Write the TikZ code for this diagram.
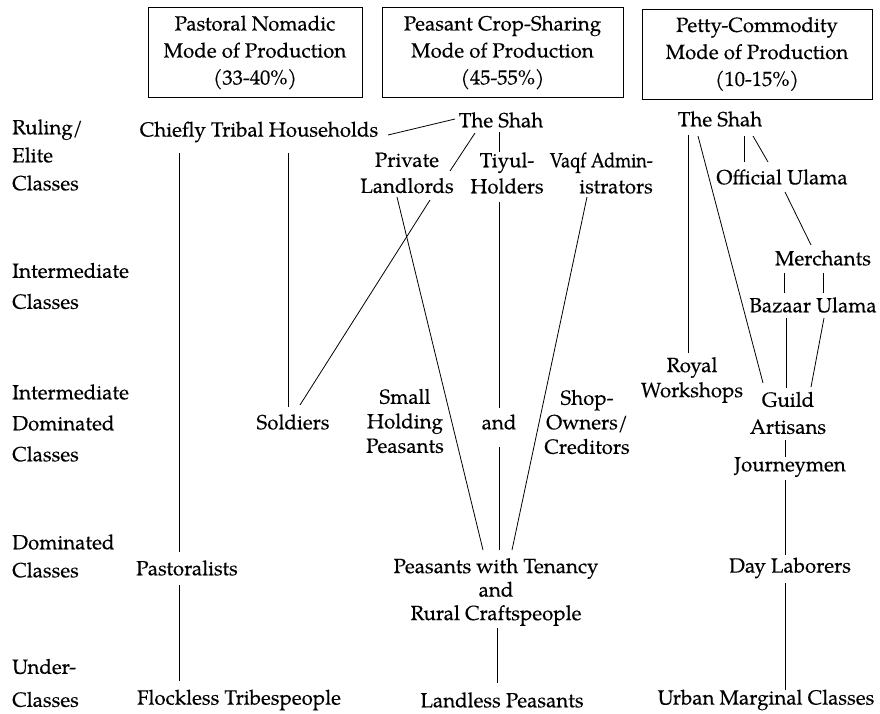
\documentclass[tikz,border=0pt]{standalone}
\usepackage{fontspec}
\setmainfont[FakeBold=0.3]{TeX Gyre Pagella}
\newfontfamily\narrowpag[FakeBold=0.3,FakeStretch=0.88]{TeX Gyre Pagella}
\usetikzlibrary{calc}
\begin{document}
\begin{tikzpicture}[x=1pt,y=-1pt,
  txt/.style={inner sep=0pt, align=center, font=\fontsize{20.5}{25}\selectfont},
  modebox/.style={draw, line width=0.9pt, align=center, minimum height=90pt, inner sep=0pt, font=\fontsize{20.5}{27}\selectfont},
  rowlabel/.style={anchor=west, align=left, inner sep=0pt, font=\fontsize{20.5}{31}\selectfont},
  link/.style={line width=0.8pt}]
\useasboundingbox (0,0) rectangle (880,713);

% mode boxes
\node[modebox, minimum width=214pt] (m1) at (255,52.5) {Pastoral Nomadic\\Mode of Production\\(33-40\%)};
\node[modebox, minimum width=241pt] (m2) at (502.5,52.5) {Peasant Crop-Sharing\\Mode of Production\\(45-55\%)};
\node[modebox, minimum width=230pt] (m3) at (757,54) {Petty-Commodity\\Mode of Production\\(10-15\%)};

% row labels
\node[rowlabel, font=\fontsize{20.5}{28}\selectfont] (r1) at (12,155) {Ruling/\\Elite\\Classes};
\node[rowlabel] (r2) at (12,286) {Intermediate\\Classes};
\node[rowlabel] (r3) at (12,423) {Intermediate\\Dominated\\Classes};
\node[rowlabel, font=\fontsize{20.5}{28}\selectfont] (r4) at (12,556) {Dominated\\Classes};
\node[rowlabel, font=\fontsize{20.5}{33}\selectfont] (r5) at (12,683) {Under-\\Classes};

% pastoral nomadic column
\node[txt] (chiefly) at (259,132) {Chiefly Tribal Households};
\node[txt] (soldiers) at (293,422) {Soldiers};
\node[txt] (pastoralists) at (187,568) {Pastoralists};
\node[txt] (flockless) at (239,700) {Flockless Tribespeople};

% peasant crop-sharing column
\node[txt] (shahA) at (501,120) {The Shah};
\node[txt, font=\fontsize{20.5}{26}\selectfont] (landlords) at (407,173) {Private\\Landlords};
\node[txt, font=\fontsize{20.5}{26}\selectfont] (tiyul) at (507,173) {Tiyul-\\Holders};
\node[txt, align=right, anchor=east, font=\fontsize{20.5}{26}\selectfont] (vaqf) at (653,173) {{\narrowpag\fontsize{20.5}{26}\selectfont Vaqf Admin-}\\istrators};
\node[txt, font=\fontsize{20.5}{24.5}\selectfont] (small) at (405,421) {Small\\Holding\\Peasants};
\node[txt] (andmid) at (499,422) {and};
\node[txt, font=\fontsize{20.5}{24.5}\selectfont] (shop) at (587,422) {Shop-\\Owners/\\Creditors};
\node[txt, font=\fontsize{20.5}{23.5}\selectfont] (tenancy) at (496,592) {Peasants with Tenancy\\and\\Rural Craftspeople};
\node[txt] (landless) at (502,700) {Landless Peasants};

% petty-commodity column
\node[txt] (shahB) at (720,119) {The Shah};
\node[txt] (official) at (782,177) {Official Ulama};
\node[txt] (merchants) at (823,258) {Merchants};
\node[txt] (bazaar) at (813,305) {Bazaar Ulama};
\node[txt, font=\fontsize{20.5}{25}\selectfont] (royal) at (692,380) {Royal\\Workshops};
\node[txt, font=\fontsize{20.5}{27}\selectfont] (guild) at (788,413) {Guild\\Artisans};
\node[txt] (journeymen) at (790,467) {Journeymen};
\node[txt] (daylab) at (790,568) {Day Laborers};
\node[txt] (urban) at (766,700) {Urban Marginal Classes};

% connectors: pastoral nomadic
\draw[link] ($(chiefly)+(129,3)$) -- ($(shahA)+(-46,-1)$);
\draw[link] ($(chiefly)+(-80,21)$) -- ($(pastoralists)+(-8,-16)$);
\draw[link] ($(pastoralists)+(-8,17)$) -- ($(flockless)+(-60,-19)$);
\draw[link] ($(chiefly)+(29,21)$) -- ($(soldiers)+(-5,-15)$);

% connectors: peasant crop-sharing
\draw[link] ($(shahA)+(-26,13)$) -- ($(landlords)+(43,-2)$);
\draw[link] ($(landlords)+(23,27)$) -- ($(soldiers)+(7,-17)$);
\draw[link] ($(shahA)+(-2,12)$) -- ($(tiyul)+(-8,-21)$);
\draw[link] ($(landlords)+(-10,24)$) -- ($(tenancy)+(-13,-42)$);
\draw[link] ($(tiyul)+(-8,29)$) -- ($(andmid)+(0,-14)$);
\draw[link] ($(andmid)+(0,25)$) -- ($(tenancy)+(3,-42)$);
\draw[link] ($(vaqf.east)+(-66,24)$) -- ($(tenancy)+(16,-42)$);
\draw[link] ($(tenancy)+(1,36)$) -- ($(landless)+(-5,-17)$);

% connectors: petty-commodity
\draw[link] ($(shahB)+(-32,16)$) -- ($(royal)+(-4,-27)$);
\draw[link] ($(shahB)+(-22,17)$) -- ($(guild)+(-25,-30)$);
\draw[link] ($(shahB)+(24,17)$) -- ($(official)+(-38,-15)$);
\draw[link] ($(shahB)+(33,17)$) -- ($(official)+(-14,-15)$);
\draw[link] ($(official)+(3,15)$) -- ($(merchants)+(-12,-13)$);
\draw[link] ($(merchants)+(-39,15)$) -- ($(bazaar)+(-29,-12)$);
\draw[link] ($(merchants)+(0,15)$) -- ($(bazaar)+(10,-12)$);
\draw[link] ($(bazaar)+(-27,13)$) -- ($(guild)+(-2,-25)$);
\draw[link] ($(bazaar)+(11,13)$) -- ($(guild)+(23,-26)$);
\draw[link] ($(guild)+(-3,27)$) -- ($(journeymen)+(-5,-10)$);
\draw[link] ($(journeymen)+(-5,13)$) -- ($(daylab)+(-5,-13)$);
\draw[link] ($(daylab)+(-5,15)$) -- ($(urban)+(19,-10)$);
\end{tikzpicture}
\end{document}
